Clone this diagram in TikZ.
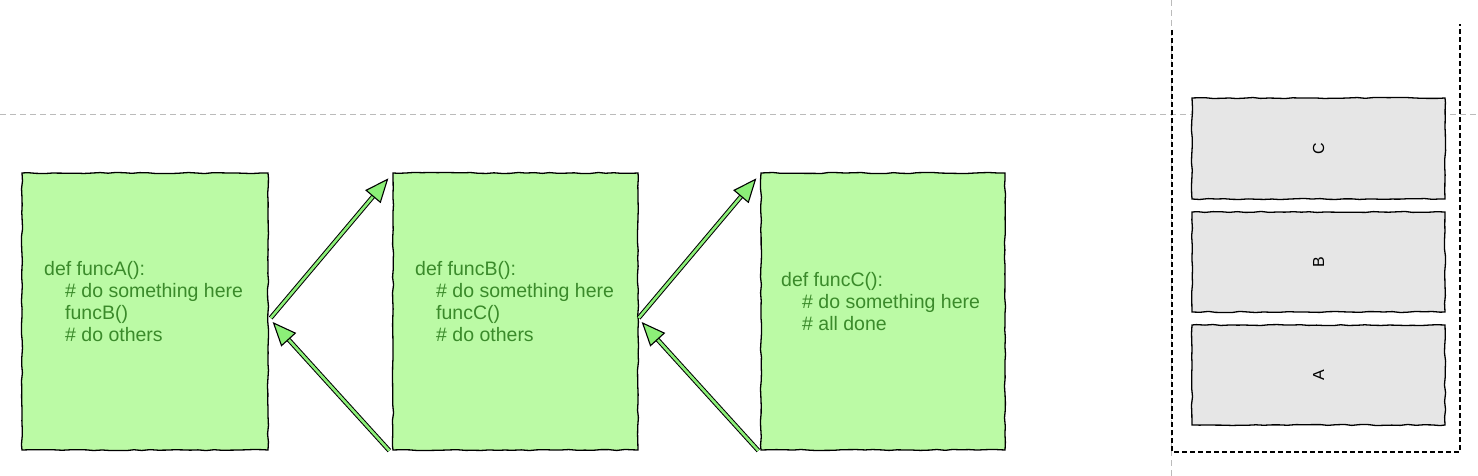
\documentclass[tikz,border=0pt]{standalone}
\usepackage{fontspec}
\setmainfont{Liberation Sans}
\usetikzlibrary{arrows.meta,decorations.pathmorphing,calc}
\definecolor{boxgreen}{HTML}{BBFAA5}
\definecolor{codegreen}{HTML}{3A8A2A}
\definecolor{arrowgreen}{HTML}{8CEF78}
\definecolor{stackgray}{HTML}{E6E6E6}
\definecolor{guidegray}{HTML}{BBBBBB}
\tikzset{
  sketchy/.style={decorate,decoration={random steps,segment length=8pt,amplitude=0.6pt}},
  funcbox/.style={draw=black,line width=1.3pt,fill=boxgreen,sketchy,minimum height=277pt,inner sep=0pt},
  stackbox/.style={draw=black,line width=1.3pt,fill=stackgray,sketchy,minimum width=253pt,inner sep=0pt},
  code/.style={text=codegreen,align=left,font=\fontsize{19.5}{22}\selectfont,inner sep=0pt},
  stacklabel/.style={font=\fontsize{16}{18}\selectfont,rotate=90,inner sep=0pt},
  guide/.style={draw=guidegray,line width=1pt,dash pattern=on 6pt off 4pt},
  frame/.style={draw=black,line width=1.2pt,dash pattern=on 5pt off 3pt},
  blockarrow/.style={draw=black,line width=1pt,double=arrowgreen,double distance=2.6pt,
    -{Triangle[length=24pt,width=20pt,fill=arrowgreen,line width=1.1pt]}},
}
\newcommand{\ind}{\hspace*{21pt}}
\begin{document}
\begin{tikzpicture}[x=1pt,y=-1pt]
\useasboundingbox (0,0) rectangle (1478,476);
% guide lines
\coordinate (gl) at (0,115);
\coordinate (gr) at (1478,115);
\coordinate (gt) at (1171,0);
\coordinate (gb) at (1171,476);
\draw[guide] (gl) -- (gr);
\draw[guide] (gt) -- (gb);
% frame (open at the top)
\coordinate (f1) at (1172,30);
\coordinate (f2) at (1172,452);
\coordinate (f3) at (1460,452);
\coordinate (f4) at (1460,24);
\draw[frame] (f1) -- (f2) -- (f3) -- (f4);
% stack boxes
\node[stackbox,minimum height=101pt] (sc) at (1318.5,148.5) {};
\node[stackbox,minimum height=100pt] (sb) at (1318.5,262) {};
\node[stackbox,minimum height=100pt] (sa) at (1318.5,375) {};
\node[stacklabel] (lc) at (sc.center) {C};
\node[stacklabel] (lb) at (sb.center) {B};
\node[stacklabel] (la) at (sa.center) {A};
% function boxes
\node[funcbox,minimum width=246pt] (fa) at (145,311.5) {};
\node[funcbox,minimum width=245pt] (fb) at (515.5,311.5) {};
\node[funcbox,minimum width=244pt] (fc) at (883,311.5) {};
\node[code,anchor=north west] (ta) at (44,261) {def funcA():\\\ind\# do something here\\\ind funcB()\\\ind\# do others};
\node[code,anchor=north west] (tb) at (415,261) {def funcB():\\\ind\# do something here\\\ind funcC()\\\ind\# do others};
\node[code,anchor=north west] (tc) at (781,272) {def funcC():\\\ind\# do something here\\\ind\# all done};
% arrows
\draw[blockarrow] ([xshift=2pt,yshift=-6.5pt]fa.east) -- ([xshift=-4pt,yshift=-6pt]fb.north west);
\draw[blockarrow] ([xshift=-3pt]fb.south west) -- ([xshift=4pt,yshift=-10.5pt]fa.east);
\draw[blockarrow] ([xshift=0pt,yshift=-6.5pt]fb.east) -- ([xshift=-4pt,yshift=-6pt]fc.north west);
\draw[blockarrow] ([xshift=-2pt]fc.south west) -- ([xshift=3pt,yshift=-10.5pt]fb.east);
\end{tikzpicture}
\end{document}
